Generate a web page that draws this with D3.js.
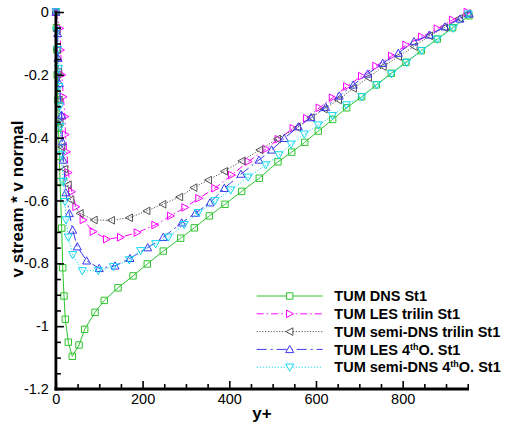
<!DOCTYPE html>
<html><head><meta charset="utf-8">
<script src="https://cdn.jsdelivr.net/npm/d3@7"></script>
<style>body{margin:0;background:#fff}svg{display:block}text{font-family:Arial,"Liberation Sans",sans-serif}</style>
</head><body>
<script>
// ---- data ----
const dnsX = [0,1,2,3,4.5,6,8,9.5,13.4,15.7,18.7,21.7,28.6,37.8,53.3,66.4,90.2,111.6,143.3,177.9,210.8,247.7,287.9,319.3,353.9,390.1,428.6,469.2,512.3,544,574,605.3,638.5,670.8,705.4,739.1,773.7,807.6,842.9,879.8,915.3,952.9];
const dnsY = [0,-0.05,-0.12,-0.2,-0.28,-0.37,-0.46,-0.54,-0.688,-0.814,-0.904,-0.978,-1.051,-1.096,-1.06,-1.01,-0.956,-0.918,-0.878,-0.84,-0.802,-0.761,-0.72,-0.687,-0.649,-0.612,-0.571,-0.529,-0.477,-0.446,-0.415,-0.379,-0.342,-0.305,-0.27,-0.232,-0.195,-0.16,-0.123,-0.086,-0.05,-0.012];

const lesTriX = [0,9,11,14,17,21,22,25,28.6,36.4,46.4,63.2,86.3,117.2,149.5,187.8,228.6,264.8,297.8,330,367,405.5,443.8,484.7,513,547.6,578.5,607.6,638,671,705.4,738.4,774.6,807.6,843.8,879.8,915.3,949];
const lesTriY = [0,-0.052,-0.121,-0.2,-0.27,-0.333,-0.39,-0.445,-0.511,-0.572,-0.62,-0.662,-0.699,-0.723,-0.717,-0.702,-0.678,-0.649,-0.622,-0.593,-0.561,-0.519,-0.476,-0.436,-0.405,-0.37,-0.338,-0.305,-0.273,-0.237,-0.204,-0.172,-0.14,-0.105,-0.079,-0.053,-0.025,0];

const semiTriX = [0,2,3.5,5,7,9,13,20,28,34,55.6,87.9,127.8,169.3,209.5,246.4,285,318,351.6,388.5,428.6,470,510.7,556.9,588.5,618.5,651.4,686,720.6,754.6,789.9,826,861.4,896,930.6,950];
const semiTriY = [0,-0.06,-0.12,-0.19,-0.28,-0.35,-0.43,-0.5,-0.55,-0.598,-0.641,-0.662,-0.663,-0.655,-0.633,-0.612,-0.589,-0.559,-0.535,-0.507,-0.474,-0.439,-0.404,-0.368,-0.336,-0.309,-0.28,-0.243,-0.209,-0.174,-0.142,-0.11,-0.076,-0.05,-0.02,-0.005];

const les4X = [0,4,5,8,13,15,17,23,31,38.7,49.4,71,100,136.3,171,211.8,247.7,290.2,322,355.5,388.5,427,468.5,497.8,526.9,559.2,588.5,622.4,653.7,686,719.3,753.9,789.9,826,861.4,897.6,932.2,953.6];
const les4Y = [0,-0.068,-0.147,-0.227,-0.328,-0.413,-0.471,-0.575,-0.641,-0.694,-0.747,-0.792,-0.816,-0.808,-0.784,-0.75,-0.717,-0.671,-0.64,-0.607,-0.561,-0.516,-0.471,-0.439,-0.402,-0.365,-0.336,-0.303,-0.267,-0.232,-0.197,-0.163,-0.131,-0.094,-0.073,-0.047,-0.022,-0.006];

const semi4X = [0,2,4,6,7,9,10,13,17,21,23.3,28.6,38.7,60.9,97.8,132.4,169.3,195.6,230.2,259.3,296,328.5,367,403.2,443.8,484,514.6,542.3,573,605.3,638,670,705.4,740,774.6,809.2,843.8,879.8,916.7,951.3];
const semi4Y = [0,-0.06,-0.12,-0.18,-0.238,-0.3,-0.365,-0.455,-0.54,-0.604,-0.662,-0.717,-0.773,-0.824,-0.823,-0.811,-0.789,-0.76,-0.738,-0.717,-0.677,-0.639,-0.601,-0.567,-0.526,-0.487,-0.455,-0.421,-0.389,-0.36,-0.33,-0.296,-0.27,-0.232,-0.197,-0.161,-0.123,-0.087,-0.052,-0.007];

const xTicks = [0,200,400,600,800];
const yTicks = [0,-0.2,-0.4,-0.6,-0.8,-1,-1.2];
const seriesNames = ["TUM DNS St1","TUM LES trilin St1","TUM semi-DNS trilin St1","TUM LES 4thO. St1","TUM semi-DNS 4thO. St1"];

// ---- chart ----
const W = 505, H = 426;
const svg = d3.select("body").append("svg").attr("width", W).attr("height", H);
const x = d3.scaleLinear().domain([0, 953]).range([55.9, 469]);
const y = d3.scaleLinear().domain([-1.2, 0]).range([389, 12]);

const series = [
  {name: seriesNames[0], xs: dnsX, ys: dnsY, color: "#2ec42e", dash: null, marker: "square"},
  {name: seriesNames[1], xs: lesTriX, ys: lesTriY, color: "#ff00ff", dash: "7,3,1.5,3", marker: "right"},
  {name: seriesNames[2], xs: semiTriX, ys: semiTriY, color: "#555555", dash: "1.2,1.6", marker: "left"},
  {name: seriesNames[3], xs: les4X, ys: les4Y, color: "#3a3af0", dash: "10,4,2,4", marker: "up"},
  {name: seriesNames[4], xs: semi4X, ys: semi4Y, color: "#14d8f0", dash: "1.2,1.8", marker: "down"}
];

function markerPath(type) {
  const s = 3.2;
  switch (type) {
    case "square": return `M${-s},${-s}H${s}V${s}H${-s}Z`;
    case "right": return `M${-s},${-3.8}L${3.8},0L${-s},${3.8}Z`;
    case "left": return `M${s},${-3.8}L${-3.8},0L${s},${3.8}Z`;
    case "up": return `M0,${-4}L${4},${3.2}L${-4},${3.2}Z`;
    case "down": return `M0,${4}L${4},${-3.2}L${-4},${-3.2}Z`;
  }
}

const line = d3.line().x(d => x(d[0])).y(d => y(d[1]));
const gData = svg.append("g");
series.forEach(s => {
  const pts = s.xs.map((v, i) => [v, s.ys[i]]);
  gData.append("path").datum(pts).attr("d", line).attr("fill", "none")
    .attr("stroke", s.color).attr("stroke-width", 1)
    .attr("stroke-dasharray", s.dash);
  gData.append("g").selectAll("path").data(pts).join("path")
    .attr("transform", d => `translate(${x(d[0])},${y(d[1])})`)
    .attr("d", markerPath(s.marker)).attr("fill", "none")
    .attr("stroke", s.color).attr("stroke-width", 1);
});

// axes
const xMinor = d3.range(0, 951, 50).filter(v => v % 200 !== 0);
const yMinor = d3.range(0, 25).map(i => -i * 0.05).filter(v => Math.abs(Math.round(v * 100)) % 20 !== 0);

const xAxis = svg.append("g").attr("transform", `translate(0,${y(-1.2)})`)
  .call(d3.axisBottom(x).tickValues(xTicks).tickSize(-8).tickPadding(14).tickFormat(d3.format("d")));
const xAxisMinor = svg.append("g").attr("transform", `translate(0,${y(-1.2)})`)
  .call(d3.axisBottom(x).tickValues(xMinor).tickSize(-5).tickFormat(""));
const yAxis = svg.append("g").attr("transform", `translate(${x(0)},0)`)
  .call(d3.axisLeft(y).tickValues(yTicks).tickSize(-8).tickPadding(7).tickFormat(d => String(d)));
const yAxisMinor = svg.append("g").attr("transform", `translate(${x(0)},0)`)
  .call(d3.axisLeft(y).tickValues(yMinor).tickSize(-5).tickFormat(""));

[xAxis, xAxisMinor, yAxis, yAxisMinor].forEach(a => {
  a.select(".domain").remove();
  a.selectAll(".tick line").attr("stroke", "#000").attr("stroke-width", 1.6);
  a.selectAll(".tick text").attr("font-size", 14.5).attr("font-family", "Arial, 'Liberation Sans', sans-serif").attr("fill", "#000");
});
xAxis.selectAll(".tick text").attr("dy", "0.71em").attr("y", 5);
// axis lines
svg.append("line").attr("x1", x(0)).attr("x2", x(0)).attr("y1", y(0) - 1).attr("y2", y(-1.2) + 1.5)
  .attr("stroke", "#000").attr("stroke-width", 2.8);
svg.append("line").attr("x1", x(0) - 1.4).attr("x2", x(953)).attr("y1", y(-1.2)).attr("y2", y(-1.2))
  .attr("stroke", "#000").attr("stroke-width", 2.8);

// axis titles
svg.append("text").attr("transform", "translate(23,199) rotate(-90)").attr("text-anchor", "middle")
  .attr("font-size", 17).attr("font-weight", "bold").text("v stream * v normal");
svg.append("text").attr("x", 262).attr("y", 419).attr("text-anchor", "middle")
  .attr("font-size", 17).attr("font-weight", "bold").text("y+");

// legend
const leg = svg.append("g");
series.forEach((s, i) => {
  const cy = 296 + i * 17.8;
  leg.append("line").attr("x1", 256.7).attr("x2", 322.7).attr("y1", cy).attr("y2", cy)
    .attr("stroke", s.color).attr("stroke-width", 1).attr("stroke-dasharray", s.dash);
  leg.append("path").attr("transform", `translate(289.7,${cy})`).attr("d", markerPath(s.marker))
    .attr("fill", "#fff").attr("stroke", s.color).attr("stroke-width", 1);
  const t = leg.append("text").attr("x", 334.3).attr("y", cy + 5.2)
    .attr("font-size", 14.5).attr("font-weight", "bold");
  const m = s.name.match(/^(.*4)(th)(O\. St1)$/);
  if (m) {
    t.append("tspan").text(m[1]);
    t.append("tspan").attr("font-size", 9).attr("dy", -5).text(m[2]);
    t.append("tspan").attr("dy", 5).text(m[3]);
  } else t.text(s.name);
});
</script>
</body></html>
